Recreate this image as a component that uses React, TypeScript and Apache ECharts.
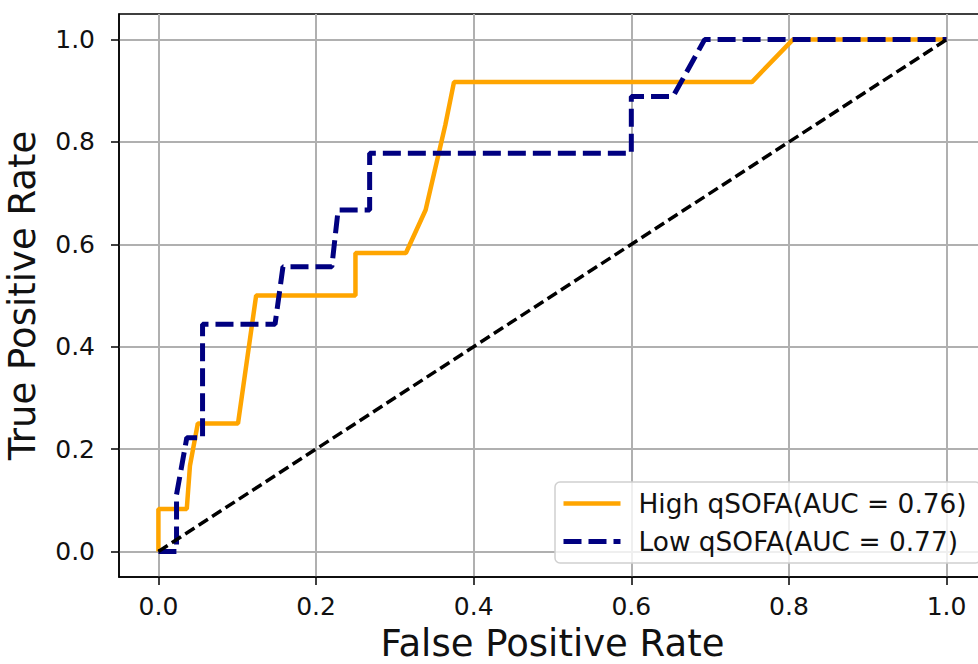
import React, { useEffect, useRef } from "react";
import * as echarts from "echarts";

const tickValues = [0, 0.2, 0.4, 0.6, 0.8, 1.0];

const highFPR = [0, 0, 0.036, 0.040, 0.050, 0.101, 0.124, 0.250, 0.250, 0.314, 0.339, 0.364, 0.375, 0.753, 0.805, 1.0];
const highTPR = [0, 0.083, 0.083, 0.167, 0.25, 0.25, 0.5, 0.5, 0.583, 0.583, 0.667, 0.833, 0.917, 0.917, 1.0, 1.0];

const lowFPR = [0, 0.023, 0.023, 0.036, 0.056, 0.056, 0.148, 0.158, 0.220, 0.228, 0.268, 0.268, 0.600, 0.600, 0.653, 0.693, 1.0];
const lowTPR = [0, 0, 0.111, 0.222, 0.222, 0.444, 0.444, 0.556, 0.556, 0.667, 0.667, 0.778, 0.778, 0.889, 0.889, 1.0, 1.0];

const chanceFPR = [0, 1];
const chanceTPR = [0, 1];

const seriesNames = ["High qSOFA(AUC = 0.76)", "Low qSOFA(AUC = 0.77)"];

const FONT = "DejaVu Sans";

function zip(xs: number[], ys: number[]) {
  return xs.map((x, i) => [x, ys[i]]);
}

export default function App() {
  const ref = useRef<HTMLDivElement>(null);
  useEffect(() => {
    if (!ref.current) return;
    const chart = echarts.init(ref.current, undefined, { renderer: "svg" });
    const axisCommon = {
      type: "value" as const,
      min: -0.05,
      max: 1.05,
      axisLine: { show: true, onZero: false, lineStyle: { color: "#000", width: 1.5 } },
      axisTick: {
        show: true,
        inside: false,
        length: 8,
        lineStyle: { color: "#000", width: 1.5 },
        customValues: tickValues,
      },
      axisLabel: {
        customValues: tickValues,
        formatter: (v: number) => v.toFixed(1),
        color: "#111",
        fontFamily: FONT,
        fontSize: 25,
      },
      splitLine: { show: true, lineStyle: { color: "#b0b0b0", width: 2 } },
      nameLocation: "middle" as const,
      nameTextStyle: { fontFamily: FONT, fontSize: 37, color: "#111", lineHeight: 33 },
    };
    chart.setOption({
      animation: false,
      backgroundColor: "#fff",
      grid: {
        left: 119,
        right: 14,
        top: 14,
        bottom: 87,
        containLabel: false,
        outerBoundsMode: "none",
        show: true,
        borderColor: "#000",
        borderWidth: 1.5,
        backgroundColor: "transparent",
      },
      xAxis: {
        ...axisCommon,
        name: "False Positive Rate",
        nameGap: 50,
        axisLabel: { ...axisCommon.axisLabel, margin: 17 },
      },
      yAxis: {
        ...axisCommon,
        name: "True Positive Rate",
        nameGap: 80,
        axisLabel: { ...axisCommon.axisLabel, margin: 24 },
      },
      legend: {
        data: [
          { name: seriesNames[0], lineStyle: { color: "#FFA500", width: 4.5 } },
          { name: seriesNames[1], lineStyle: { color: "#000080", width: 5, type: [18, 7] } },
        ],
        orient: "vertical",
        left: 555,
        top: 482,
        padding: [6, 14, 6, 6],
        itemWidth: 57,
        itemHeight: 14,
        itemGap: 7,
        itemStyle: { opacity: 0 },
        backgroundColor: "rgba(255,255,255,0.8)",
        borderColor: "#d0d0d0",
        borderWidth: 1.5,
        borderRadius: 5,
        textStyle: {
          fontFamily: FONT,
          fontSize: 26.4,
          color: "#111",
          lineHeight: 31,
          padding: [0, 0, 0, 13],
        },
      },
      series: [
        {
          name: seriesNames[0],
          type: "line",
          data: zip(highFPR, highTPR),
          symbol: "none",
          lineStyle: { color: "#FFA500", width: 4.5 },
          itemStyle: { color: "#FFA500" },
          z: 2,
        },
        {
          name: seriesNames[1],
          type: "line",
          data: zip(lowFPR, lowTPR),
          symbol: "none",
          lineStyle: { color: "#000080", width: 5, type: [18, 7] },
          itemStyle: { color: "#000080" },
          z: 3,
        },
        {
          name: "chance",
          type: "line",
          data: zip(chanceFPR, chanceTPR),
          symbol: "none",
          lineStyle: { color: "#000", width: 3.5, type: [11, 5] },
          itemStyle: { color: "#000" },
          z: 4,
        },
      ],
    });
    return () => chart.dispose();
  }, []);
  return (
    <div style={{ position: "fixed", left: 0, top: 0, width: 978, height: 664, overflow: "hidden", background: "#fff" }}>
      <div ref={ref} style={{ width: 1000, height: 664 }} />
    </div>
  );
}
